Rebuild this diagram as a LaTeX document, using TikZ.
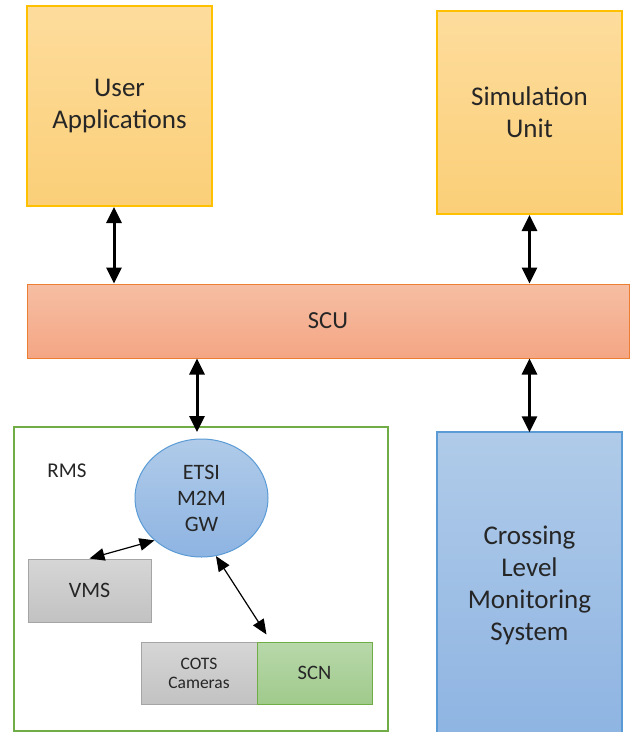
\documentclass[tikz,border=0pt]{standalone}
\usepackage{fontspec}
\setmainfont{Carlito}
\usetikzlibrary{arrows.meta,shapes.geometric,calc}
\definecolor{txt}{HTML}{262626}
\definecolor{yTop}{HTML}{FDDC9C}
\definecolor{yBot}{HTML}{FBCF78}
\definecolor{yLine}{HTML}{FFC000}
\definecolor{oTop}{HTML}{F6BEA3}
\definecolor{oBot}{HTML}{F4A684}
\definecolor{oLine}{HTML}{ED7D31}
\definecolor{bTop}{HTML}{B0CBE9}
\definecolor{bBot}{HTML}{8EB4E2}
\definecolor{bLine}{HTML}{5B9BD5}
\definecolor{gTop}{HTML}{D6D6D6}
\definecolor{gBot}{HTML}{C2C2C2}
\definecolor{gLine}{HTML}{A5A5A5}
\definecolor{grTop}{HTML}{B8D8AA}
\definecolor{grBot}{HTML}{A0CA8C}
\definecolor{grLine}{HTML}{70AD47}
\begin{document}
\begin{tikzpicture}[x=1pt,y=-1pt,
  box/.style={rectangle, inner sep=0pt, align=center, text=txt},
  ybox/.style={box, draw=yLine, line width=2pt, top color=yTop, bottom color=yBot},
  obox/.style={box, draw=oLine, line width=1pt, top color=oTop, bottom color=oBot},
  bbox/.style={box, draw=bLine, line width=1.5pt, top color=bTop, bottom color=bBot},
  gbox/.style={box, draw=gLine, line width=1pt, top color=gTop, bottom color=gBot},
  grbox/.style={box, draw=grLine, line width=1pt, top color=grTop, bottom color=grBot},
  bigfont/.style={font=\fontsize{27pt}{32pt}\selectfont},
  thickarrow/.style={{Triangle[width=15pt,length=16pt]}-{Triangle[width=15pt,length=16pt]}, line width=3pt, black},
  thinarrow/.style={{Triangle[width=12.5pt,length=15pt]}-{Triangle[width=12.5pt,length=15pt]}, line width=1.2pt, black},
]
\useasboundingbox (0,0) rectangle (630,732);

\node[ybox, bigfont, minimum width=185, minimum height=200] (ua) at (119.5,106) {User\\Applications};
\node[ybox, bigfont, minimum width=185, minimum height=203] (su) at (529.5,112.5) {Simulation\\Unit};
\node[obox, font=\fontsize{24.5pt}{28pt}\selectfont, minimum width=602, minimum height=74] (scu) at (328,321) {SCU};
\node[bbox, bigfont, minimum width=185, minimum height=306] (clms) at (529.5,585) {Crossing\\Level\\Monitoring\\System};

\node[box, draw=grLine, line width=2pt, minimum width=374, minimum height=304] (rms) at (201,579) {};
\node[box, font=\fontsize{21pt}{24pt}\selectfont] (rmslabel) at (67,471) {RMS};
\node[ellipse, inner sep=0pt, align=center, text=txt, draw=bLine, line width=1pt, top color=bTop, bottom color=bBot,
      minimum width=133, minimum height=118, font=\fontsize{22pt}{26pt}\selectfont] (gw) at (201.5,498) {ETSI\\M2M\\GW};
\node[gbox, font=\fontsize{22pt}{26pt}\selectfont, minimum width=123, minimum height=63] (vms) at (89.5,590.5) {VMS};
\node[gbox, font=\fontsize{17.5pt}{19pt}\selectfont, minimum width=116, minimum height=62] (cots) at (199,673) {COTS\\Cameras};
\node[grbox, font=\fontsize{20.5pt}{24pt}\selectfont, minimum width=115, minimum height=62] (scn) at (314.5,673) {SCN};

\draw[thickarrow] (ua.south -| 114,0) -- (scu.north -| 114,0);
\draw[thickarrow] (su.south) -- (scu.north -| su.south);
\draw[thickarrow] (scu.south -| 197,0) -- ($(rms.north -| 197,0)+(0,6)$);
\draw[thickarrow] (scu.south -| 529.5,0) -- ($(clms.north)+(0,1)$);
\draw[thinarrow] (vms.north) -- (gw.222);
\draw[thinarrow] (gw.284) -- ($(scn.north west)+(10,-7)$);
\end{tikzpicture}
\end{document}
